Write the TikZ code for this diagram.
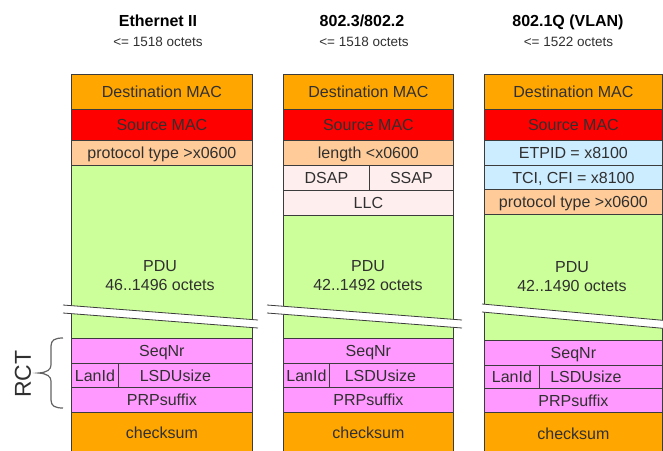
\documentclass[tikz,border=0pt]{standalone}
\usepackage{fontspec}
\setmainfont{Liberation Sans}

\definecolor{macorange}{HTML}{FFA600}
\definecolor{srcred}{HTML}{FF0000}
\definecolor{typepeach}{HTML}{FFCC99}
\definecolor{pdugreen}{HTML}{CCFF99}
\definecolor{llcpink}{HTML}{FFEEEE}
\definecolor{vlanblue}{HTML}{CCECFF}
\definecolor{rctpink}{HTML}{FF99FF}
\definecolor{edge}{HTML}{3C3C3C}
\definecolor{ink}{HTML}{303030}

\begin{document}
\begin{tikzpicture}[x=1pt, y=-1pt,
  fld/.style={draw=edge, line width=0.8pt, anchor=north west, inner sep=0pt,
    font=\fontsize{16}{19}\selectfont, text=ink, text height=11.5pt, text depth=0pt},
  lab/.style={inner sep=0pt, font=\fontsize{16}{19}\selectfont, text=ink,
    text height=11.5pt, text depth=0pt},
  pdutxt/.style={inner sep=0pt, anchor=base, font=\fontsize{16}{19}\selectfont, text=ink},
  ttl/.style={inner sep=0pt, anchor=base, font=\bfseries\fontsize{16}{19}\selectfont, text=black},
  sub/.style={inner sep=0pt, anchor=base, font=\fontsize{13.5}{16}\selectfont, text=ink},
  cut/.style={draw=edge, line width=0.8pt},
  brc/.style={draw=edge!80, line width=1.2pt},
]
\useasboundingbox (0,0) rectangle (663,450);

% ---------- headings ----------
\node[ttl] (t1) at (158,26) {Ethernet II};
\node[sub] (s1) at (158,46.5) {<= 1518 octets};
\node[ttl] (t2) at (362,26) {802.3/802.2};
\node[sub] (s2) at (364,46.5) {<= 1518 octets};
\node[ttl] (t3) at (568,26) {802.1Q (VLAN)};
\node[sub] (s3) at (568.5,46.5) {<= 1522 octets};

% ---------- Ethernet II frame ----------
\node[fld, fill=macorange, minimum width=181pt, minimum height=35pt] (e-dst) at (71,74) {Destination MAC};
\node[fld, fill=srcred, minimum width=181pt, minimum height=31pt] (e-src) at (71,109) {Source MAC};
\node[fld, fill=typepeach, minimum width=181pt, minimum height=25pt] (e-type) at (71,140) {protocol type >x0600};
\node[fld, fill=pdugreen, minimum width=181pt, minimum height=173pt] (e-pdu) at (71,165) {};
\node[fld, fill=rctpink, minimum width=181pt, minimum height=25pt] (e-seq) at (71,338) {SeqNr};
\node[fld, fill=rctpink, minimum width=47pt, minimum height=24pt] (e-lan) at (71,363) {LanId};
\node[fld, fill=rctpink, minimum width=134pt, minimum height=24pt,
      label={[lab, xshift=-10pt]center:LSDUsize}] (e-size) at (118,363) {};
\node[fld, fill=rctpink, minimum width=181pt, minimum height=25pt] (e-prp) at (71,387) {PRPsuffix};
\node[fld, fill=macorange, minimum width=181pt, minimum height=40pt] (e-chk) at (71,412) {checksum};

% ---------- 802.3/802.2 frame ----------
\node[fld, fill=macorange, minimum width=170pt, minimum height=35pt] (l-dst) at (283,74) {Destination MAC};
\node[fld, fill=srcred, minimum width=170pt, minimum height=31pt] (l-src) at (283,109) {Source MAC};
\node[fld, fill=typepeach, minimum width=170pt, minimum height=25pt] (l-len) at (283,140) {length <x0600};
\node[fld, fill=llcpink, minimum width=86pt, minimum height=25pt] (l-dsap) at (283,165) {DSAP};
\node[fld, fill=llcpink, minimum width=84pt, minimum height=25pt] (l-ssap) at (369,165) {SSAP};
\node[fld, fill=llcpink, minimum width=170pt, minimum height=25pt] (l-llc) at (283,190) {LLC};
\node[fld, fill=pdugreen, minimum width=170pt, minimum height=123pt] (l-pdu) at (283,215) {};
\node[fld, fill=rctpink, minimum width=170pt, minimum height=25pt] (l-seq) at (283,338) {SeqNr};
\node[fld, fill=rctpink, minimum width=46pt, minimum height=24pt] (l-lan) at (283,363) {LanId};
\node[fld, fill=rctpink, minimum width=124pt, minimum height=24pt,
      label={[lab, xshift=-11pt]center:LSDUsize}] (l-size) at (329,363) {};
\node[fld, fill=rctpink, minimum width=170pt, minimum height=25pt] (l-prp) at (283,387) {PRPsuffix};
\node[fld, fill=macorange, minimum width=170pt, minimum height=40pt] (l-chk) at (283,412) {checksum};

% ---------- 802.1Q frame ----------
\node[fld, fill=macorange, minimum width=178pt, minimum height=35pt] (v-dst) at (484,74) {Destination MAC};
\node[fld, fill=srcred, minimum width=178pt, minimum height=31pt] (v-src) at (484,109) {Source MAC};
\node[fld, fill=vlanblue, minimum width=178pt, minimum height=25pt] (v-tpid) at (484,140) {ETPID = x8100};
\node[fld, fill=vlanblue, minimum width=178pt, minimum height=24pt] (v-tci) at (484,165) {TCI, CFI = x8100};
\node[fld, fill=typepeach, minimum width=178pt, minimum height=25pt] (v-type) at (484,189) {protocol type >x0600};
\node[fld, fill=pdugreen, minimum width=178pt, minimum height=126pt] (v-pdu) at (484,214) {};
\node[fld, fill=rctpink, minimum width=178pt, minimum height=25pt] (v-seq) at (484,340) {SeqNr};
\node[fld, fill=rctpink, minimum width=55pt, minimum height=23pt] (v-lan) at (484,365) {LanId};
\node[fld, fill=rctpink, minimum width=123pt, minimum height=23pt,
      label={[lab, xshift=-15pt]center:LSDUsize}] (v-size) at (539,365) {};
\node[fld, fill=rctpink, minimum width=178pt, minimum height=24pt] (v-prp) at (484,388) {PRPsuffix};
\node[fld, fill=macorange, minimum width=178pt, minimum height=42pt] (v-chk) at (484,412) {checksum};

% ---------- breaks across the PDU fields ----------
\fill[white] (63,305) -- (258,320) -- (258,328) -- (63,313) -- cycle;
\draw[cut] (63,305) -- (258,320);
\draw[cut] (63,313) -- (258,328);
\fill[white] (267,305) -- (462,320) -- (462,328) -- (267,313) -- cycle;
\draw[cut] (267,305) -- (462,320);
\draw[cut] (267,313) -- (462,328);
\fill[white] (482,304) -- (665,320.5) -- (665,328.5) -- (482,312) -- cycle;
\draw[cut] (482,304) -- (665,320.5);
\draw[cut] (482,312) -- (665,328.5);

% ---------- PDU captions ----------
\node[pdutxt] (e-pdu1) at (160,271) {PDU};
\node[pdutxt] (e-pdu2) at (160,290) {46..1496 octets};
\node[pdutxt] (l-pdu1) at (368,271) {PDU};
\node[pdutxt] (l-pdu2) at (368,290) {42..1492 octets};
\node[pdutxt] (v-pdu1) at (572,272.5) {PDU};
\node[pdutxt] (v-pdu2) at (572,291.5) {42..1490 octets};

% ---------- RCT brace ----------
\coordinate (rct-top) at (63,338);
\coordinate (rct-bot) at (63,408);
\draw[brc] (rct-top) .. controls (55,338) and (51,340) .. (51,346)
  -- (51,365) .. controls (51,369.5) and (47,372.5) .. (38.5,373)
  .. controls (47,373.5) and (51,376.5) .. (51,381)
  -- (51,400) .. controls (51,406) and (55,408) .. (rct-bot);
\node[rotate=90, inner sep=0pt, font=\fontsize{23}{26}\selectfont, text=ink] (rct) at (23,374) {RCT};
\end{tikzpicture}
\end{document}
